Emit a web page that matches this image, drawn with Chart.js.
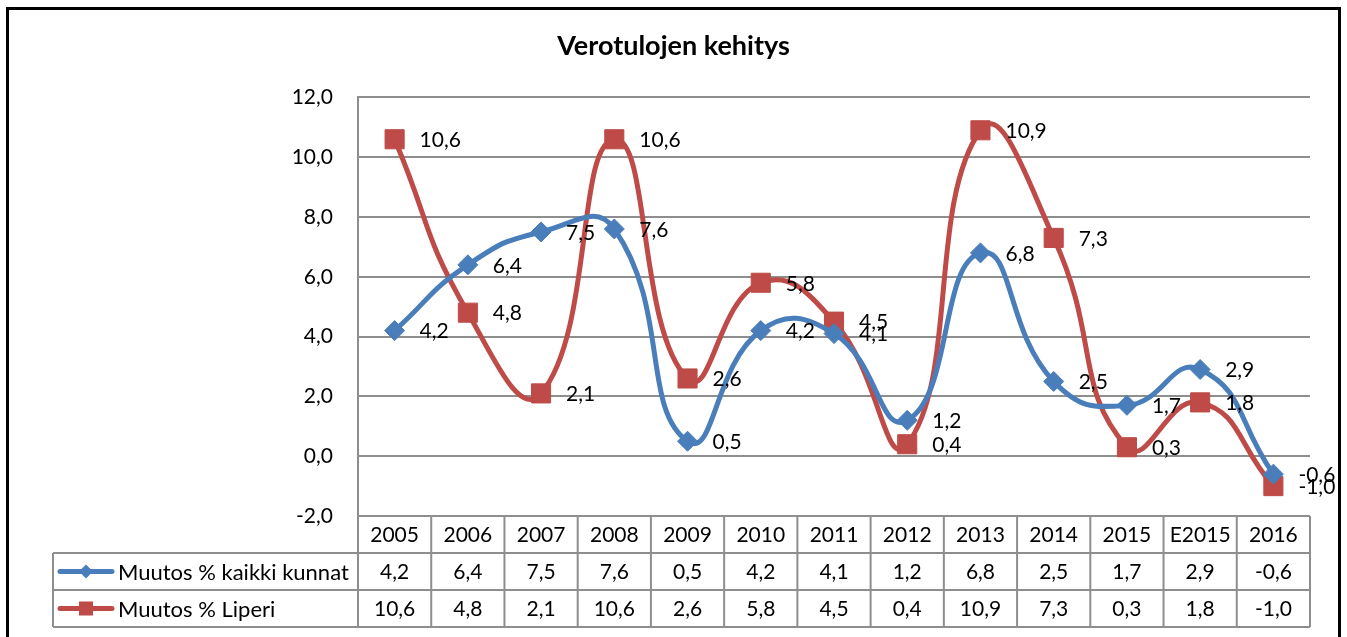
<!DOCTYPE html>
<html>
<head>
<meta charset="utf-8">
<script src="https://cdn.jsdelivr.net/npm/chart.js@4.4.0/dist/chart.umd.min.js"></script>
<style>
  body { margin: 0; background: #fff; }
  canvas { display: block; }
</style>
</head>
<body>
<canvas id="chart" width="1347" height="637"></canvas>
<script>
// data
const years = ['2005', '2006', '2007', '2008', '2009', '2010', '2011', '2012', '2013', '2014', '2015', 'E2015', '2016'];
const kaikkiKunnat = [4.2, 6.4, 7.5, 7.6, 0.5, 4.2, 4.1, 1.2, 6.8, 2.5, 1.7, 2.9, -0.6];
const liperi = [10.6, 4.8, 2.1, 10.6, 2.6, 5.8, 4.5, 0.4, 10.9, 7.3, 0.3, 1.8, -1.0];
const seriesNames = ['Muutos % kaikki kunnat', 'Muutos % Liperi'];
const yMin = -2, yMax = 12, yStep = 2;

const FONT = 'Lato, "Open Sans", sans-serif';
const blue = '#4a7ebb';
const red = '#be4b48';
const gridGray = '#8e8e8e';

const fmt = v => v.toFixed(1).replace('.', ',');

// value labels to the right of each point (like Excel's "right" position)
const pointLabels = {
  id: 'pointLabels',
  afterDatasetsDraw(chart) {
    const ctx = chart.ctx;
    ctx.save();
    ctx.font = '21px ' + FONT;
    ctx.fillStyle = '#000';
    ctx.textBaseline = 'middle';
    ctx.textAlign = 'left';
    chart.data.datasets.forEach((ds, di) => {
      chart.getDatasetMeta(di).data.forEach((pt, i) => {
        ctx.fillText(fmt(ds.data[i]), pt.x + 25, pt.y + 1);
      });
    });
    ctx.restore();
  }
};

// data table under the plot + outer frame
const dataTable = {
  id: 'dataTable',
  afterDraw(chart) {
    const ctx = chart.ctx;
    const area = chart.chartArea;
    const xs = chart.scales.x;
    const colW = (area.right - area.left) / years.length;
    const rowH = 37;
    const top = area.bottom;
    const legLeft = 53;

    ctx.save();
    ctx.strokeStyle = gridGray;
    ctx.lineWidth = 2;
    ctx.beginPath();
    // header row
    ctx.moveTo(area.left, top); ctx.lineTo(area.right, top);
    for (let r = 1; r <= 3; r++) {
      ctx.moveTo(legLeft, top + r * rowH); ctx.lineTo(area.right, top + r * rowH);
    }
    for (let i = 0; i <= years.length; i++) {
      const x = xs.getPixelForValue(0) - colW / 2 + i * colW;
      ctx.moveTo(x, top); ctx.lineTo(x, top + 3 * rowH);
    }
    ctx.moveTo(legLeft, top + rowH); ctx.lineTo(legLeft, top + 3 * rowH);
    ctx.stroke();

    // values
    ctx.fillStyle = '#000';
    ctx.textBaseline = 'middle';
    ctx.textAlign = 'center';
    chart.data.datasets.forEach((ds, di) => {
      const cy = top + (di + 1.5) * rowH + 1;
      ctx.font = '21px ' + FONT;
      ds.data.forEach((v, i) => {
        ctx.fillText(fmt(v), xs.getPixelForValue(i), cy);
      });
      // legend key
      const ly = cy - 1;
      ctx.strokeStyle = ds.borderColor;
      ctx.lineWidth = 5;
      ctx.lineCap = 'round';
      ctx.beginPath();
      ctx.moveTo(60, ly); ctx.lineTo(112, ly);
      ctx.stroke();
      ctx.fillStyle = ds.borderColor;
      if (ds.pointStyle === 'rectRot') {
        ctx.beginPath();
        ctx.moveTo(86, ly - 7); ctx.lineTo(93, ly); ctx.lineTo(86, ly + 7); ctx.lineTo(79, ly);
        ctx.closePath(); ctx.fill();
      } else {
        ctx.fillRect(79, ly - 7, 14, 14);
      }
      ctx.fillStyle = '#000';
      ctx.textAlign = 'left';
      ctx.font = '22px ' + FONT;
      ctx.fillText(ds.label, 118, cy);
      ctx.textAlign = 'center';
    });

    // outer frame
    ctx.strokeStyle = '#000';
    ctx.lineWidth = 3;
    ctx.strokeRect(7.5, 8.5, 1332, 700);
    ctx.restore();
  }
};

new Chart(document.getElementById('chart'), {
  type: 'line',
  data: {
    labels: years,
    datasets: [
      {
        label: seriesNames[0],
        data: kaikkiKunnat,
        borderColor: blue,
        backgroundColor: blue,
        borderWidth: 5,
        pointStyle: 'rectRot',
        pointRadius: 10,
        pointBorderWidth: 1,
        tension: 0.5
      },
      {
        label: seriesNames[1],
        data: liperi,
        borderColor: red,
        backgroundColor: red,
        borderWidth: 5,
        pointStyle: 'rect',
        pointRadius: 13.5,
        pointBorderWidth: 1,
        tension: 0.5
      }
    ]
  },
  options: {
    responsive: false,
    animation: false,
    events: [],
    layout: { padding: 0 },
    plugins: {
      legend: { display: false },
      tooltip: { enabled: false },
      title: {
        display: true,
        text: 'Verotulojen kehitys',
        color: '#000',
        font: { family: FONT, size: 27, weight: 'bold' },
        padding: { top: 30, bottom: 35 }
      }
    },
    elements: { line: { capBezierPoints: false } },
    scales: {
      x: {
        offset: true,
        grid: { display: false, drawTicks: false },
        border: { display: false },
        ticks: { color: '#000', font: { family: FONT, size: 21 }, padding: 7 },
        afterFit: s => { s.height = 121; }
      },
      y: {
        min: yMin,
        max: yMax,
        grid: { color: gridGray, lineWidth: 2, drawTicks: false },
        border: { color: gridGray, width: 2 },
        ticks: {
          stepSize: yStep,
          color: '#000',
          padding: 25,
          font: { family: FONT, size: 21 },
          callback: v => fmt(v)
        },
        afterFit: s => { s.width = 358; }
      },
      // empty right-hand axis, only reserves the margin right of the plot
      yRight: {
        type: 'linear',
        position: 'right',
        min: yMin,
        max: yMax,
        grid: { drawOnChartArea: false, drawTicks: false },
        border: { display: false },
        ticks: { display: false },
        afterFit: s => { s.width = 37; }
      }
    }
  },
  plugins: [pointLabels, dataTable]
});
</script>
</body>
</html>
